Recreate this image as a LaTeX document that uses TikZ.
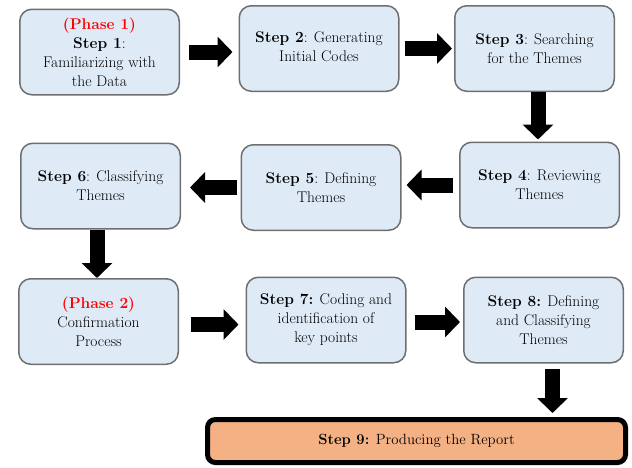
\documentclass[tikz,border=0pt]{standalone}
\usetikzlibrary{arrows.meta}
\definecolor{boxblue}{HTML}{DEEBF7}
\definecolor{boxline}{HTML}{6F6F6F}
\definecolor{phasered}{HTML}{FF0000}
\definecolor{reportorange}{HTML}{F4B183}
\tikzset{
  stepbox/.style={draw=boxline, line width=1.5pt, fill=boxblue, rounded corners=12pt,
    minimum width=159.5pt, minimum height=85.5pt, align=center, inner sep=2pt,
    font=\fontsize{15.5}{19}\selectfont, text=black},
  reportbox/.style={draw=black, line width=5pt, fill=reportorange, rounded corners=8pt,
    minimum width=418pt, minimum height=43pt, align=center,
    font=\fontsize{14.8}{19}\selectfont, text=black},
  blk/.style={line width=15pt, black, -{Triangle[length=15pt,width=30pt]}}
}
\begin{document}
\begin{tikzpicture}[x=1pt,y=-1pt]
\useasboundingbox (0,0) rectangle (632,467);
\node[stepbox] (b1) at (99.5,52) {{\color{phasered}\textbf{(Phase 1)}}\\\textbf{Step 1}:\\Familiarizing with\\the Data};
\node[stepbox] (b2) at (319,48.5) {\raisebox{4pt}{\begin{tabular}{@{}c@{}}\textbf{Step 2}: Generating\\Initial Codes\end{tabular}}};
\node[stepbox] (b3) at (534.5,48.5) {\textbf{Step 3}: Searching\\for the Themes};
\node[stepbox] (b4) at (539.5,185) {\textbf{Step 4}: Reviewing\\Themes};
\node[stepbox] (b5) at (321,187.5) {\textbf{Step 5}: Defining\\Themes};
\node[stepbox] (b6) at (100.5,186) {\textbf{Step 6}: Classifying\\Themes};
\node[stepbox] (p2) at (98.5,321.5) {{\color{phasered}\textbf{(Phase 2)}}\\Confirmation\\Process};
\node[stepbox] (b7) at (326,320) {\textbf{Step 7:} Coding and\\identification of\\key points};
\node[stepbox] (b8) at (543.5,320) {\textbf{Step 8:} Defining\\and Classifying\\Themes};
\node[reportbox] (b9) at (416.5,441) {\textbf{Step 9:} Producing the Report};
\draw[blk, shorten <=9pt, shorten >=6pt] (b1.east) -- (b1.east -| b2.west);
\draw[blk, shorten <=5pt, shorten >=2pt] (b2.east) -- (b2.east -| b3.west);
\draw[blk, shorten <=0pt, shorten >=2pt] ([xshift=3.5pt]b3.south) -- ([xshift=3.5pt]b3.south |- b4.north);
\draw[blk, shorten <=6pt, shorten >=5pt] (b4.west) -- (b4.west -| b5.east);
\draw[blk, shorten <=4pt, shorten >=9pt] (b5.west) -- (b5.west -| b6.east);
\draw[blk, shorten <=0pt, shorten >=0pt] ([xshift=-3.5pt]b6.south) -- ([xshift=-3.5pt]b6.south |- p2.north);
\draw[blk, shorten <=12pt, shorten >=7pt] ([yshift=-3pt]p2.east) -- ([yshift=-3pt]p2.east -| b7.west);
\draw[blk, shorten <=8pt, shorten >=3pt] ([yshift=-2pt]b7.east) -- ([yshift=-2pt]b7.east -| b8.west);
\draw[blk, shorten <=5pt, shorten >=4pt] ([xshift=9pt]b8.south) -- ([xshift=9pt]b8.south |- b9.north);
\end{tikzpicture}
\end{document}
